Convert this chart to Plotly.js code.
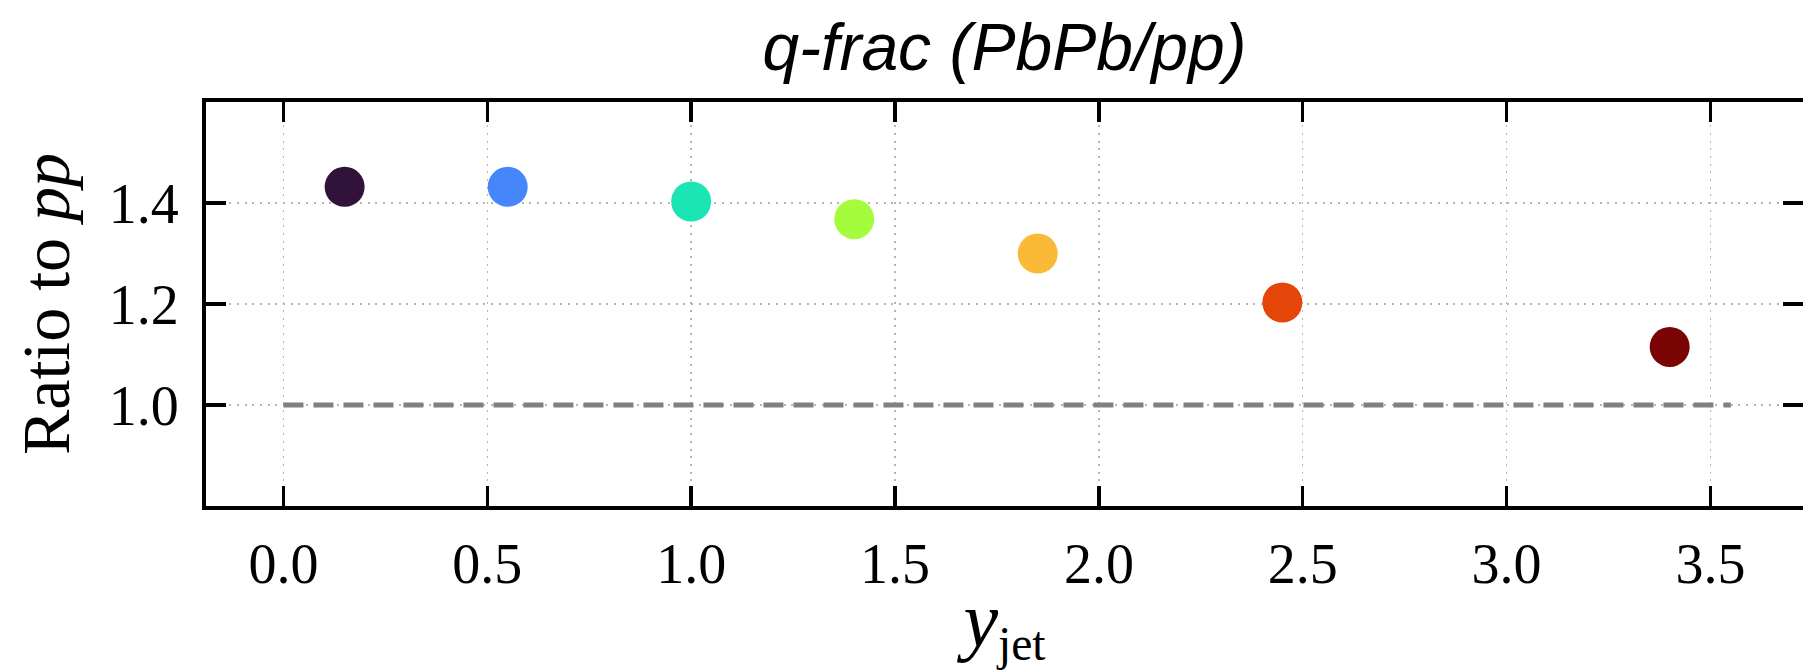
<!DOCTYPE html>
<html>
<head>
<meta charset="utf-8">
<script src="https://cdn.plot.ly/plotly-3.0.1.min.js"></script>
<style>
  html, body { margin: 0; padding: 0; background: #ffffff; overflow: hidden; }
  #chart { width: 1803px; height: 670px; }
</style>
</head>
<body>
<div id="chart"></div>
<script>
// ---- data ----
const yJet = [0.15, 0.55, 1.00, 1.40, 1.85, 2.45, 3.40];
const ratio = [1.432, 1.432, 1.403, 1.368, 1.300, 1.203, 1.115];
const pointColors = ['#30123b', '#4686fb', '#1be5b5', '#a4fc3c', '#fbb938', '#e4460a', '#7a0403'];

const refLineX = [0.0, 3.55];
const refLineY = [1.0, 1.0];

const xTickVals = [0.0, 0.5, 1.0, 1.5, 2.0, 2.5, 3.0, 3.5];
const xTickText = ['0.0', '0.5', '1.0', '1.5', '2.0', '2.5', '3.0', '3.5'];
const yTickVals = [1.0, 1.2, 1.4];
const yTickText = ['1.0', '1.2', '1.4'];

const chartTitle = 'q-frac (PbPb/pp)';
const xTitle = '<i><span style="font-size:78px">y</span></i><sub>jet</sub>';
const yTitle = 'Ratio to <i>pp</i>';

// ---- traces ----
const traces = [
  {
    type: 'scatter',
    mode: 'lines',
    x: refLineX,
    y: refLineY,
    line: { color: '#808080', width: 5, dash: '20px,10px' },
    hoverinfo: 'skip',
    showlegend: false
  },
  {
    type: 'scatter',
    mode: 'markers',
    x: yJet,
    y: ratio,
    marker: { size: 40, color: pointColors, line: { width: 0 } },
    showlegend: false
  }
];

const serif = '"Liberation Serif", "DejaVu Serif", serif';

const axisCommon = {
  showline: true,
  linecolor: '#000000',
  linewidth: 4,
  mirror: 'ticks',
  ticks: 'inside',
  ticklen: 20,
  tickwidth: 3.5,
  tickcolor: '#000000',
  showgrid: true,
  gridcolor: '#b4b4b4',
  gridwidth: 1.5,
  griddash: '2px,5.7px',
  zeroline: false,
  tickfont: { family: serif, size: 56, color: '#000000' },
  automargin: false
};

const layout = {
  width: 1803,
  height: 670,
  paper_bgcolor: '#ffffff',
  plot_bgcolor: '#ffffff',
  margin: { l: 206, r: 0, t: 102, b: 164, pad: 0 },
  title: {
    text: chartTitle,
    font: { family: '"Liberation Sans", Arial, sans-serif', size: 66, color: '#000000', style: 'italic' },
    x: 0.5,
    xref: 'paper',
    xanchor: 'center',
    y: 0.93,
    yref: 'container',
    yanchor: 'middle'
  },
  xaxis: Object.assign({}, axisCommon, {
    range: [-0.19, 3.727],
    tickmode: 'array',
    tickvals: xTickVals,
    ticktext: xTickText,
    ticklabelstandoff: 6,
    title: { text: xTitle, font: { family: serif, size: 68, color: '#000000' }, standoff: 16 }
  }),
  yaxis: Object.assign({}, axisCommon, {
    range: [0.8, 1.6],
    tickmode: 'array',
    tickvals: yTickVals,
    ticktext: yTickText,
    ticklabelstandoff: 12,
    title: { text: yTitle, font: { family: serif, size: 68, color: '#000000' }, standoff: 18 }
  }),
  showlegend: false
};

Plotly.newPlot('chart', traces, layout, { displayModeBar: false, staticPlot: true });
</script>
</body>
</html>
